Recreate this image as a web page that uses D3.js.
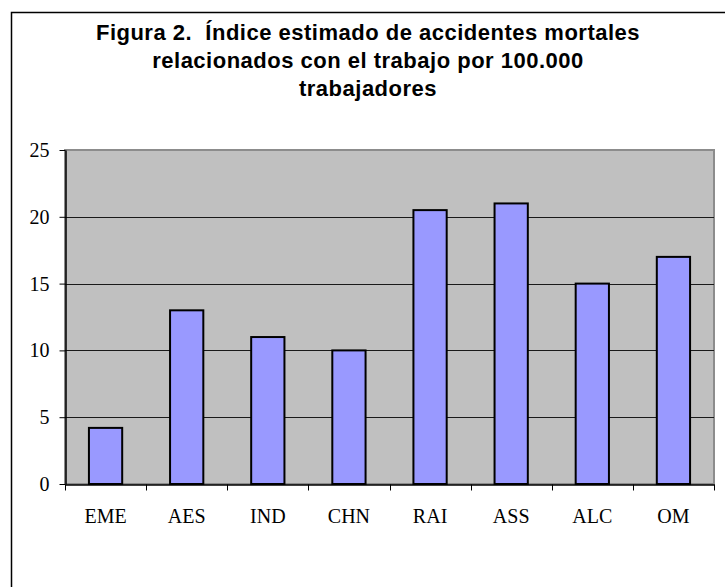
<!DOCTYPE html>
<html>
<head>
<meta charset="utf-8">
<script src="https://cdn.jsdelivr.net/npm/d3@7"></script>
<style>
  body { margin: 0; background: #fff; }
  svg { display: block; }
</style>
</head>
<body>
<svg id="chart" width="725" height="587"></svg>
<script>
// chart data
const categories = ["EME", "AES", "IND", "CHN", "RAI", "ASS", "ALC", "OM"];
const values = [4.2, 13, 11, 10, 20.5, 21, 15, 17];
const yTicks = [0, 5, 10, 15, 20, 25];
const titleLines = [
    "Figura 2.  Índice estimado de accidentes mortales",
    "relacionados con el trabajo por 100.000",
    "trabajadores"
];

let plot = {left: 65, right: 714, top: 150, bottom: 484};

const svg = d3.select("#chart");

// outer frame (runs off the right and bottom edge)
svg.append("rect")
    .attr("x", 11.5).attr("y", 12.5)
    .attr("width", 740).attr("height", 600)
    .attr("fill", "#fff")
    .attr("stroke", "#000")
    .attr("stroke-width", 1.5);

// title
svg.append("g").selectAll("text")
    .data(titleLines)
    .enter().append("text")
    .attr("x", 368)
    .attr("y", (d, i) => 40 + i * 28)
    .attr("text-anchor", "middle")
    .style("white-space", "pre")
    .style("font-family", "'Liberation Sans', Arial, sans-serif")
    .style("font-weight", "bold")
    .style("font-size", "22px")
    .style("letter-spacing", "0.5px")
    .text(d => d);

let x = d3.scaleBand()
    .domain(categories)
    .range([plot.left, plot.right])
    .paddingInner(0.59)
    .paddingOuter(0.295);

let y = d3.scaleLinear()
    .domain([0, 25])
    .range([plot.bottom, plot.top]);

// plot background
svg.append("rect")
    .attr("x", plot.left).attr("y", plot.top)
    .attr("width", plot.right - plot.left)
    .attr("height", plot.bottom - plot.top)
    .attr("fill", "#c0c0c0")
    .attr("stroke", "#8c8c8c")
    .attr("stroke-width", 2);

// gridlines
svg.append("g").selectAll("line")
    .data(yTicks.filter(d => d > 0 && d < 25))
    .enter().append("line")
    .attr("x1", plot.left).attr("x2", plot.right)
    .attr("y1", d => Math.round(y(d)) + 0.5)
    .attr("y2", d => Math.round(y(d)) + 0.5)
    .attr("stroke", "#1a1a1a")
    .attr("stroke-width", 1);

// bars
svg.append("g").selectAll("rect")
    .data(values)
    .enter().append("rect")
    .attr("x", (d, i) => x(categories[i]))
    .attr("y", d => y(d))
    .attr("width", x.bandwidth())
    .attr("height", d => y(0) - y(d))
    .attr("fill", "#9999ff")
    .attr("stroke", "#000")
    .attr("stroke-width", 2);

// y axis
let yAxis = svg.append("g")
    .attr("transform", "translate(" + (plot.left + 0.5) + ",0)")
    .call(d3.axisLeft(y).tickValues(yTicks).tickSize(6).tickPadding(10).tickSizeOuter(0));

// x axis with ticks between categories
let xAxis = svg.append("g")
    .attr("transform", "translate(0," + (plot.bottom + 0.5) + ")")
    .call(d3.axisBottom(x).tickSize(0).tickPadding(24));

xAxis.selectAll(".sep")
    .data(d3.range(categories.length + 1))
    .enter().append("line")
    .attr("class", "sep")
    .attr("x1", i => Math.round(plot.left + i * (plot.right - plot.left) / categories.length) + 0.5)
    .attr("x2", i => Math.round(plot.left + i * (plot.right - plot.left) / categories.length) + 0.5)
    .attr("y1", 0).attr("y2", 6)
    .attr("stroke", "#000");

[yAxis, xAxis].forEach(a => {
    a.selectAll("path.domain").attr("stroke", "#000").attr("stroke-width", 1.5);
    a.selectAll("text")
        .style("font-family", "'Liberation Serif', 'Times New Roman', serif")
        .style("font-size", "20px")
        .attr("fill", "#000");
});
</script>
</body>
</html>
